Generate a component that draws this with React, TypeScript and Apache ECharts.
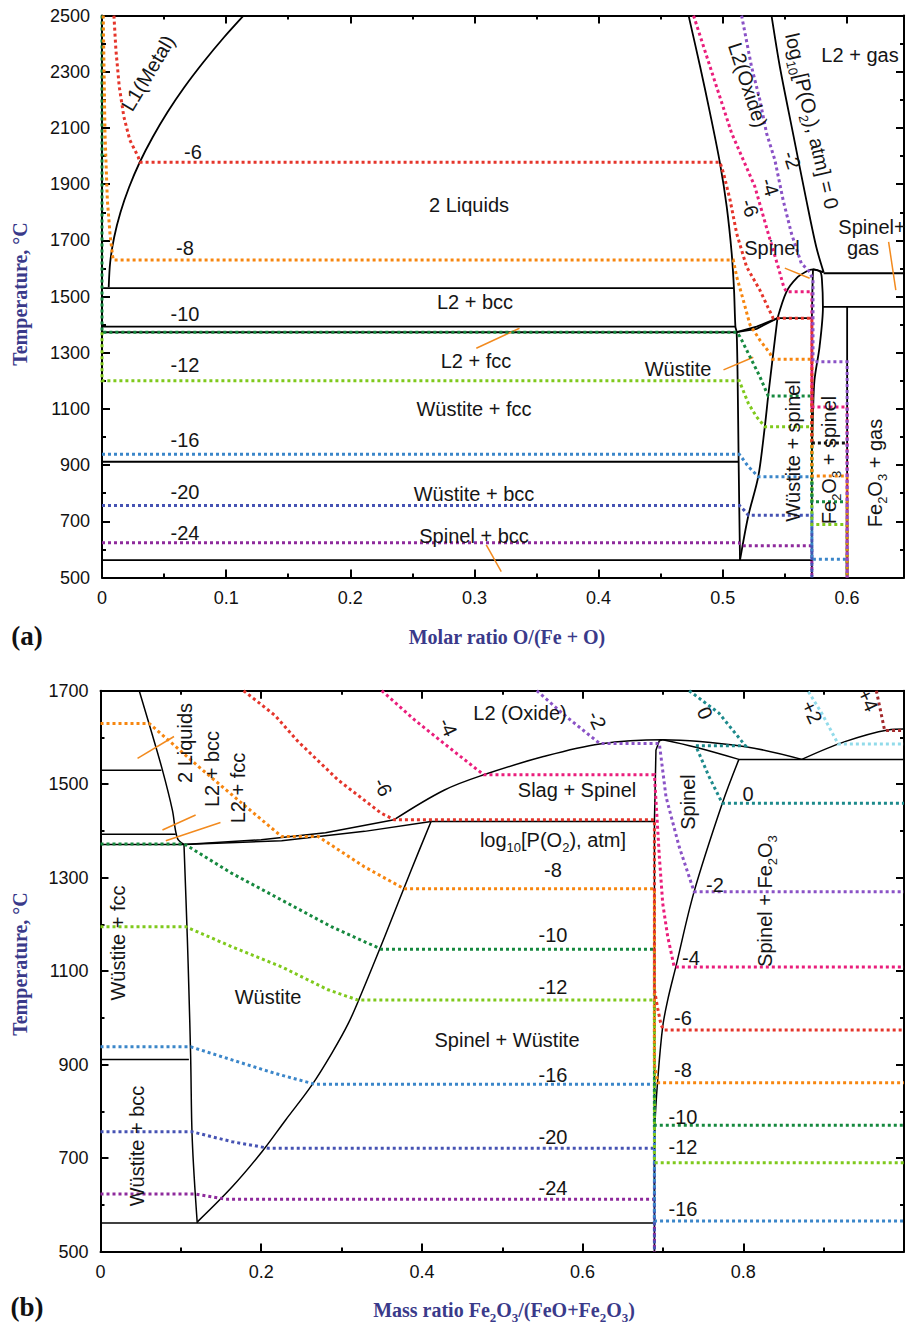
import React, { useEffect, useRef } from 'react';
import * as echarts from 'echarts';

type Pt = [number, number];

// ───────── Panel (a): Fe–O system, molar ratio O/(Fe+O) ─────────
const aMetalLiquidus: Pt[] = [[0.0054, 1533], [0.0066, 1622], [0.0098, 1711], [0.0149, 1800], [0.0218, 1889], [0.0304, 1978], [0.0408, 2067], [0.0527, 2156], [0.0663, 2245], [0.0816, 2334], [0.0983, 2423], [0.114, 2500]];
const aOxideLiquidus: Pt[] = [[0.4725, 2500], [0.4818, 2318], [0.4898, 2152], [0.4978, 1974], [0.5032, 1820], [0.5072, 1654], [0.5091, 1523], [0.5102, 1393], [0.5112, 1373], [0.512, 1203], [0.5128, 912], [0.5139, 562]];
const aWustiteRight: Pt[] = [[0.5139, 562], [0.5206, 720], [0.5286, 859], [0.5339, 1037], [0.5366, 1146], [0.5401, 1277], [0.5441, 1423]];
const aWustiteLiquidus: Pt[] = [[0.5112, 1373], [0.5273, 1393], [0.5441, 1423]];
const aWustiteSolidus: Pt[] = [[0.5112, 1373], [0.5273, 1385], [0.5441, 1423]];
const aSpinelLiquidus: Pt[] = [[0.5441, 1423], [0.5513, 1517], [0.5593, 1565], [0.5673, 1589], [0.5727, 1597], [0.5813, 1586]];
const aSpinelLeft: Pt[] = [[0.5718, 500], [0.5718, 1423], [0.5722, 1520], [0.5727, 1597]];
const aSpinelRight: Pt[] = [[0.5727, 1597], [0.5786, 1588], [0.5799, 1560], [0.5807, 1463], [0.578, 1322], [0.5739, 1203], [0.5727, 1085], [0.5718, 950]];
const aGasLine: Pt[] = [[0.5393, 2500], [0.546, 2318], [0.5566, 2081], [0.5673, 1844], [0.5753, 1677], [0.5813, 1586]];
const aFe2O3: Pt[] = [[0.6002, 1463], [0.6002, 500]];
const aIsotherms: Pt[][] = [
  [[0, 1530], [0.509, 1530]],
  [[0, 1393], [0.5102, 1393]],
  [[0, 1373], [0.5112, 1373]],
  [[0, 912], [0.5128, 912]],
  [[0, 562], [0.5718, 562]],
  [[0.5441, 1423], [0.5718, 1423]],
  [[0.5813, 1583], [0.646, 1583]],
  [[0.5807, 1463], [0.646, 1463]],
];
// oxygen isobars, log10[P(O2), atm]
const aIsobars: Record<string, Pt[]> = {
  '-24': [[0, 624], [0.5128, 624], [0.5155, 613], [0.5718, 613], [0.5718, 500]],
  '-20': [[0, 756], [0.5135, 756], [0.5175, 738], [0.5206, 722], [0.5718, 722], [0.5718, 500]],
  '-16': [[0, 939], [0.5133, 939], [0.5206, 895], [0.5286, 859], [0.5718, 859], [0.5718, 565], [0.6002, 565], [0.6002, 500]],
  '-12': [[0, 1373], [0, 1200], [0.5133, 1200], [0.5206, 1120], [0.5272, 1072], [0.5339, 1037], [0.5718, 1037], [0.5718, 689], [0.6002, 689], [0.6002, 500]],
  '-10': [[0, 2500], [0, 1373], [0.5112, 1373], [0.5139, 1357], [0.5219, 1286], [0.5299, 1215], [0.5366, 1146], [0.5718, 1146], [0.5718, 770], [0.6002, 770], [0.6002, 500]],
  '-8': [[0.001, 2500], [0.0024, 2081], [0.0043, 1844], [0.0064, 1725], [0.0086, 1642], [0.0092, 1630], [0.5085, 1630], [0.5112, 1571], [0.5165, 1488], [0.5219, 1400], [0.5299, 1345], [0.538, 1298], [0.5401, 1277], [0.5718, 1277], [0.5718, 861], [0.6002, 861], [0.6002, 500]],
  '-6': [[0.0096, 2500], [0.0112, 2378], [0.0139, 2247], [0.0176, 2140], [0.0224, 2057], [0.0291, 1998], [0.0304, 1978], [0.4978, 1978], [0.5006, 1939], [0.5059, 1844], [0.5112, 1725], [0.5192, 1606], [0.5299, 1523], [0.5366, 1460], [0.5406, 1423], [0.5718, 1423], [0.5718, 979]],
  '-4': [[0.4765, 2500], [0.4898, 2318], [0.5072, 2081], [0.5259, 1891], [0.5366, 1725], [0.5446, 1606], [0.5491, 1535], [0.5513, 1517], [0.5718, 1517], [0.5718, 1107], [0.6002, 1107], [0.6002, 500]],
  '-2': [[0.5152, 2500], [0.5232, 2318], [0.5299, 2200], [0.5353, 2081], [0.542, 1986], [0.5486, 1844], [0.5553, 1725], [0.5633, 1618], [0.57, 1588], [0.5727, 1560], [0.5727, 1268], [0.6002, 1268], [0.6002, 500]],
};
const aMagnetic: Pt[] = [[0.5718, 979], [0.6002, 979]];
const aPointers: Pt[][] = [
  [[0.3015, 1316], [0.3363, 1387]],
  [[0.5006, 1239], [0.5246, 1284]],
  [[0.3095, 616], [0.3216, 521]],
  [[0.55, 1601], [0.57, 1565]],
  [[0.6336, 1695], [0.6394, 1523]],
];

// ───────── Panel (b): FeO–Fe2O3, mass ratio Fe2O3/(FeO+Fe2O3) ─────────
const bMetalLiquidus: Pt[] = [[0.0482, 1700], [0.062, 1620], [0.0771, 1530], [0.0894, 1445], [0.0956, 1385], [0.1039, 1371]];
const bWustiteLeft: Pt[] = [[0.1039, 1371], [0.108, 1174], [0.11, 1060], [0.1122, 917], [0.1142, 739], [0.1204, 561]];
const bWustiteRight: Pt[] = [[0.1209, 564], [0.1642, 639], [0.2012, 714], [0.2302, 781], [0.263, 856], [0.2878, 924], [0.3084, 988], [0.3245, 1051], [0.3538, 1174], [0.3866, 1316], [0.4114, 1420]];
const bWustiteLiquidus: Pt[] = [[0.1039, 1371], [0.2, 1381], [0.28, 1396], [0.3655, 1424]];
const bWustiteSolidus: Pt[] = [[0.1039, 1371], [0.2255, 1379], [0.3286, 1399], [0.4114, 1420]];
const bSlagLiquidus: Pt[] = [[0.3655, 1424], [0.4275, 1487], [0.477, 1520], [0.5513, 1559], [0.6213, 1586], [0.6997, 1595], [0.8027, 1580], [0.8728, 1553]];
const bHematiteLiquidus: Pt[] = [[0.8728, 1553], [0.9264, 1591], [0.98, 1616], [1.0, 1618]];
const bSpinelLeft: Pt[] = [[0.6894, 500], [0.6894, 1420], [0.6913, 1573], [0.6955, 1593], [0.6997, 1595]];
const bSpinelTop: Pt[] = [[0.6997, 1595], [0.7409, 1579], [0.7945, 1553]];
const bSpinelRight: Pt[] = [[0.7945, 1553], [0.7739, 1459], [0.7388, 1270], [0.716, 1109], [0.7059, 1038], [0.6997, 981], [0.6935, 867], [0.6902, 774], [0.6894, 620]];
const bIsotherms: Pt[][] = [
  [[0, 1530], [0.0758, 1530]],
  [[0, 1393], [0.0936, 1393]],
  [[0, 1371], [0.1039, 1371]],
  [[0, 911], [0.11, 911]],
  [[0, 561], [0.6894, 561]],
  [[0.4114, 1420], [0.6894, 1420]],
  [[0.7945, 1553], [1.0, 1553]],
];
const bIsobars: Record<string, Pt[]> = {
  '-24': [[0, 623], [0.1184, 623], [0.1555, 612], [0.6894, 612], [0.6894, 500]],
  '-20': [[0, 756], [0.1142, 756], [0.1636, 735], [0.209, 721], [0.6894, 721], [0.6894, 500]],
  '-16': [[0, 938], [0.1122, 938], [0.1636, 910], [0.2173, 881], [0.2668, 858], [0.6894, 858], [0.6894, 565], [1.0, 565]],
  '-12': [[0, 1195], [0.106, 1195], [0.1636, 1152], [0.2255, 1109], [0.2832, 1060], [0.3204, 1038], [0.6894, 1038], [0.6894, 690], [1.0, 690]],
  '-10': [[0, 1372], [0.1039, 1372], [0.11, 1366], [0.1636, 1309], [0.2255, 1252], [0.2873, 1195], [0.3492, 1147], [0.6894, 1147], [0.6894, 770], [1.0, 770]],
  '-8': [[0, 1630], [0.0606, 1630], [0.1224, 1537], [0.1761, 1459], [0.2255, 1388], [0.2709, 1388], [0.3286, 1323], [0.3781, 1276], [0.6894, 1276], [0.6894, 900], [0.6935, 861], [1.0, 861]],
  '-6': [[0.1781, 1700], [0.2173, 1647], [0.2461, 1591], [0.2956, 1509], [0.3492, 1438], [0.3655, 1424], [0.6894, 1424], [0.6894, 1060], [0.6935, 1020], [0.6976, 985], [0.701, 974], [1.0, 974]],
  '-4': [[0.35, 1700], [0.3912, 1637], [0.4276, 1587], [0.477, 1520], [0.6894, 1520], [0.6955, 1345], [0.6997, 1245], [0.7059, 1174], [0.714, 1109], [1.0, 1109]],
  '-2': [[0.543, 1700], [0.58, 1644], [0.6213, 1587], [0.6955, 1587], [0.7038, 1473], [0.7202, 1366], [0.7388, 1270], [1.0, 1270]],
  '0': [[0.7326, 1700], [0.7697, 1652], [0.8027, 1582], [0.7409, 1582], [0.7574, 1516], [0.7739, 1459], [1.0, 1459]],
  '+2': [[0.881, 1698], [0.8976, 1652], [0.918, 1586], [1.0, 1586]],
  '+4': [[0.9656, 1700], [0.9759, 1615], [1.0, 1615]],
};
const bPointers: Pt[][] = [
  [[0.0461, 1555], [0.0915, 1602]],
  [[0.0771, 1402], [0.1184, 1434]],
  [[0.0813, 1379], [0.1493, 1418]],
];

const isobarColor: Record<string, string> = {
  '-24': '#8e2a9c', '-20': '#4653b3', '-16': '#3b86c9', '-12': '#7fc91c',
  '-10': '#16893f', '-8': '#f7860f', '-6': '#e5352b', '-4': '#ea1e7c',
  '-2': '#8a52c6', '0': '#1d8a8c', '+2': '#92dbea', '+4': '#a3282a',
};

// text annotations: [text, x, y, rotation in degrees]
type Lbl = [string, number, number, number?];
const aLabels: Lbl[] = [
  ['L1(Metal)', 148, 73, 59],
  ['-6', 193, 152], ['2 Liquids', 469, 205], ['-8', 185, 248],
  ['L2 + bcc', 475, 302], ['-10', 185, 314], ['L2 + fcc', 476, 361],
  ['-12', 185, 365], ['Wüstite + fcc', 474, 409], ['-16', 185, 440],
  ['Wüstite + bcc', 474, 494], ['-20', 185, 492], ['-24', 185, 533],
  ['Spinel + bcc', 474, 536], ['Wüstite', 678, 369],
  ['Wüstite + spinel', 793, 451, 90],
  ['Fe{s|2}O{s|3} + spinel', 829, 460, 90],
  ['Fe{s|2}O{s|3} + gas', 875, 473, 90],
  ['L2(Oxide)', 748, 85, -72],
  ['log{s|10}[P(O{s|2}), atm] = 0', 812, 121, -77],
  ['-2', 792, 160, -72], ['-4', 770, 187, -72], ['-6', 750, 208, -72],
  ['L2 + gas', 860, 55], ['Spinel+', 872, 227], ['gas', 863, 248], ['Spinel', 772, 248],
];
const bLabels: Lbl[] = [
  ['2 Liquids', 185, 743, 90], ['L2 + bcc', 212, 769, 90], ['L2 + fcc', 238, 788, 90],
  ['-6', 383, 787, -65], ['-4', 448, 727, -65], ['L2 (Oxide)', 520, 713],
  ['-2', 597, 720, -65], ['0', 705, 713, -65], ['+2', 812, 712, -65], ['+4', 868, 700, -65],
  ['Slag + Spinel', 577, 790], ['log{s|10}[P(O{s|2}), atm]', 553, 840],
  ['-8', 553, 870], ['-10', 553, 935], ['-12', 553, 987],
  ['Spinel + Wüstite', 507, 1040], ['-16', 553, 1075], ['-20', 553, 1137], ['-24', 553, 1188],
  ['Wüstite', 268, 997], ['Wüstite + fcc', 118, 943, 90], ['Wüstite + bcc', 137, 1146, 90],
  ['Spinel', 688, 802, 90], ['0', 748, 794], ['Spinel + Fe{s|2}O{s|3}', 765, 901, 90],
  ['-2', 715, 885], ['-4', 691, 958], ['-6', 683, 1018], ['-8', 683, 1070],
  ['-10', 683, 1117], ['-12', 683, 1147], ['-16', 683, 1209],
];

const SANS = '"Liberation Sans", Arial, sans-serif';
const SERIF = '"Liberation Serif", "Times New Roman", serif';
const TITLE = '#3a3a8a';

function lineSeries(data: Pt[], g: number, color: string, width: number, dotted: boolean, smooth = 0) {
  return {
    type: 'line',
    xAxisIndex: g === 0 ? 0 : 4,
    yAxisIndex: g === 0 ? 0 : 2,
    data,
    symbol: 'none',
    showSymbol: false,
    silent: true,
    clip: true,
    smooth: smooth || false,
    z: dotted ? 3 : 2,
    lineStyle: { color, width, type: dotted ? [3, 3] : 'solid', cap: 'butt', join: 'miter' },
  };
}

function textEl(t: string, x: number, y: number, rot: number, size: number, opts: any = {}) {
  const rich = t.includes('{');
  return {
    type: 'text',
    x, y,
    rotation: (rot * Math.PI) / 180,
    z: 100,
    silent: true,
    style: {
      text: t,
      fill: opts.fill || '#151515',
      fontSize: size,
      fontFamily: opts.family || SANS,
      fontWeight: opts.weight || 'normal',
      align: 'center',
      verticalAlign: 'middle',
      textAlign: 'center',
      textVerticalAlign: 'middle',
      lineHeight: rich ? Math.round(size * 1.4) : undefined,
      rich: rich
        ? {
            s: {
              fontSize: Math.round(size * 0.65),
              lineHeight: Math.round(size * 0.65),
              verticalAlign: 'bottom',
              fontFamily: opts.family || SANS,
              fontWeight: opts.weight || 'normal',
              fill: opts.fill || '#151515',
            },
          }
        : undefined,
    },
  };
}

function buildOption() {
  const tickLine = { color: '#000', width: 2 };
  const label = { color: '#111', fontSize: 18, fontFamily: SANS };
  // major ticks (with optional labels) and a separate minor-tick axis sharing the same grid edge
  const xMajor = (grid: number, max: number, interval: number, pos: string, fmt: ((v: number) => string) | null) => ({
    type: 'value', gridIndex: grid, min: 0, max, interval, position: pos,
    axisLine: { show: true, onZero: false, lineStyle: tickLine },
    axisTick: { show: true, inside: true, length: 8, lineStyle: tickLine },
    splitLine: { show: false },
    axisLabel: fmt ? { ...label, margin: 11, formatter: fmt } : { show: false },
  });
  const xMinor = (grid: number, max: number, interval: number, pos: string) => ({
    type: 'value', gridIndex: grid, min: 0, max, interval, position: pos,
    axisLine: { show: false, onZero: false },
    axisTick: { show: true, inside: true, length: 4, lineStyle: tickLine },
    splitLine: { show: false },
    axisLabel: { show: false },
  });
  const baseY = (grid: number, max: number, pos: string, labels: boolean) => ({
    type: 'value', gridIndex: grid, min: 500, max, interval: 200, position: pos,
    axisLine: { show: true, onZero: false, lineStyle: tickLine },
    axisTick: { show: true, inside: true, length: 8, lineStyle: tickLine },
    minorTick: { show: true, splitNumber: 2, length: 4, lineStyle: tickLine },
    splitLine: { show: false },
    axisLabel: labels ? { ...label, margin: 12, formatter: (v: number) => String(v) } : { show: false },
  });
  const fmtA = (v: number) => {
    const k = Math.round(v * 10);
    if (Math.abs(v * 10 - k) > 1e-6 || k > 6) return '';
    return k === 0 ? '0' : (k / 10).toFixed(1);
  };
  const fmtB = (v: number) => {
    const k = Math.round(v * 5);
    if (Math.abs(v * 5 - k) > 1e-6 || k >= 5) return '';
    return k === 0 ? '0' : (k / 5).toFixed(1);
  };

  const series: any[] = [];
  // panel (a)
  [aMetalLiquidus, aOxideLiquidus, aWustiteRight, aSpinelLiquidus, aGasLine, aSpinelRight]
    .forEach((d) => series.push(lineSeries(d, 0, '#000', 1.8, false, 0.3)));
  [aWustiteLiquidus, aWustiteSolidus, aSpinelLeft, aFe2O3, ...aIsotherms]
    .forEach((d) => series.push(lineSeries(d, 0, '#000', 1.8, false)));
  Object.keys(aIsobars).forEach((k) => series.push(lineSeries(aIsobars[k], 0, isobarColor[k], 3, true)));
  series.push(lineSeries(aMagnetic, 0, '#111', 3, true));
  aPointers.forEach((d) => series.push(lineSeries(d, 0, '#f28a1e', 1.5, false)));
  // panel (b)
  [bMetalLiquidus, bWustiteLeft, bWustiteRight, bSlagLiquidus, bHematiteLiquidus, bSpinelTop, bSpinelRight]
    .forEach((d) => series.push(lineSeries(d, 1, '#000', 1.5, false, 0.35)));
  [bWustiteLiquidus, bWustiteSolidus, bSpinelLeft, ...bIsotherms]
    .forEach((d) => series.push(lineSeries(d, 1, '#000', 1.5, false)));
  Object.keys(bIsobars).forEach((k) => series.push(lineSeries(bIsobars[k], 1, isobarColor[k], 3, true)));
  bPointers.forEach((d) => series.push(lineSeries(d, 1, '#f28a1e', 1.5, false)));

  const graphics: any[] = [];
  aLabels.forEach(([t, x, y, r]) => graphics.push(textEl(t, x, y, r || 0, 20)));
  bLabels.forEach(([t, x, y, r]) => graphics.push(textEl(t, x, y, r || 0, 20)));
  const titleOpts = { family: SERIF, weight: 'bold', fill: TITLE };
  graphics.push(textEl('Temperature, °C', 20, 294, 90, 20, titleOpts));
  graphics.push(textEl('Temperature, °C', 20, 964, 90, 20, titleOpts));
  graphics.push(textEl('Molar ratio O/(Fe + O)', 507, 637, 0, 20, titleOpts));
  graphics.push(textEl('Mass ratio Fe{s|2}O{s|3}/(FeO+Fe{s|2}O{s|3})', 504, 1310, 0, 20, titleOpts));
  graphics.push(textEl('(a)', 27, 636, 0, 27, { family: SERIF, weight: 'bold', fill: '#111' }));
  graphics.push(textEl('(b)', 27, 1307, 0, 27, { family: SERIF, weight: 'bold', fill: '#111' }));

  return {
    animation: false,
    backgroundColor: '#ffffff',
    grid: [
      { left: 102, top: 15.6, width: 806.2, height: 561.9 },
      { left: 100.5, top: 690.7, width: 809, height: 560.8 },
    ],
    xAxis: [
      xMajor(0, 0.646, 0.1, 'bottom', fmtA),
      xMinor(0, 0.646, 0.05, 'bottom'),
      xMajor(0, 0.646, 0.1, 'top', null),
      xMinor(0, 0.646, 0.05, 'top'),
      xMajor(1, 1.0, 0.2, 'bottom', fmtB),
      xMinor(1, 1.0, 0.1, 'bottom'),
      xMajor(1, 1.0, 0.2, 'top', null),
      xMinor(1, 1.0, 0.1, 'top'),
    ],
    yAxis: [
      baseY(0, 2500, 'left', true),
      baseY(0, 2500, 'right', false),
      baseY(1, 1700, 'left', true),
      baseY(1, 1700, 'right', false),
    ],
    series,
    graphic: { elements: graphics },
  };
}

export default function App() {
  const ref = useRef<HTMLDivElement>(null);
  useEffect(() => {
    if (!ref.current) return;
    const chart = echarts.init(ref.current, null, { renderer: 'svg' });
    chart.setOption(buildOption() as any);
    return () => chart.dispose();
  }, []);
  return (
    <div
      ref={ref}
      style={{ position: 'absolute', left: 0, top: 0, width: 907, height: 1326, background: '#fff' }}
    />
  );
}
